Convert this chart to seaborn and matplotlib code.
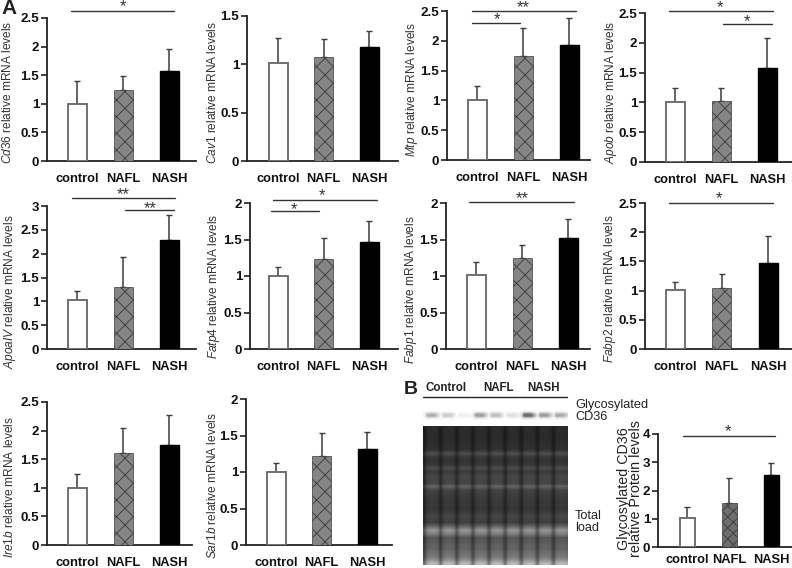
import numpy as np
import pandas as pd
import matplotlib
matplotlib.use('Agg')
import matplotlib.pyplot as plt
from matplotlib.lines import Line2D
import seaborn as sns

sns.set_style('white')
plt.rcParams['font.family'] = ['Liberation Sans', 'DejaVu Sans']
plt.rcParams['mathtext.fontset'] = 'custom'
plt.rcParams['mathtext.it'] = 'Liberation Sans:italic'
plt.rcParams['mathtext.rm'] = 'Liberation Sans'
plt.rcParams['hatch.linewidth'] = 0.6

# data
groups = ['control', 'NAFL', 'NASH']

cd36_mean = [1.00, 1.25, 1.57]
cd36_top = [1.40, 1.48, 1.96]
cav1_mean = [1.01, 1.08, 1.18]
cav1_top = [1.27, 1.26, 1.34]
mtp_mean = [1.00, 1.75, 1.93]
mtp_top = [1.25, 2.21, 2.38]
apob_mean = [1.01, 1.03, 1.57]
apob_top = [1.24, 1.25, 2.08]
apoa4_mean = [1.02, 1.31, 2.29]
apoa4_top = [1.22, 1.93, 2.82]
fatp4_mean = [1.00, 1.23, 1.47]
fatp4_top = [1.13, 1.52, 1.76]
fabp1_mean = [1.01, 1.24, 1.52]
fabp1_top = [1.19, 1.43, 1.78]
fabp2_mean = [1.01, 1.05, 1.48]
fabp2_top = [1.14, 1.28, 1.94]
ire1b_mean = [1.00, 1.61, 1.74]
ire1b_top = [1.25, 2.05, 2.27]
sar1b_mean = [1.00, 1.22, 1.32]
sar1b_top = [1.13, 1.53, 1.55]
protein_mean = [1.02, 1.57, 2.55]
protein_top = [1.43, 2.44, 2.97]

ticks_25 = [0, 0.5, 1, 1.5, 2, 2.5]
ticks_15 = [0, 0.5, 1, 1.5]
ticks_3 = [0, 0.5, 1, 1.5, 2, 2.5, 3]
ticks_2 = [0, 0.5, 1, 1.5, 2]
ticks_4 = [0, 1, 2, 3, 4]

# gel brightness, top to bottom, and per lane band strength on the blot
gel_profile = [45, 45, 44, 44, 46, 48, 50, 80, 56, 52, 56, 78, 60, 70, 72, 68, 100, 70, 64, 60,
               58, 58, 56, 60, 72, 66, 66, 105, 150, 128, 88, 90, 98, 100, 112, 118, 140, 185]
blot_lanes = [0.50, 0.32, 0.10, 0.60, 0.40, 0.20, 0.92, 0.62, 0.52]
blot_profile = [0, 0, 0, 0, 0.2, 0.9, 1, 0.3, 0, 0]

W, H = 792, 568
fig = plt.figure(figsize=(W / 100, H / 100), dpi=100, facecolor='white')


def fx(x):
    return x / W


def fy(y):
    return 1 - y / H


def bar_panel(means, tops, ticks, left, right, top, bottom, c0, c2, bar_px=19, diamond='xx', fill='#858585', xpad=8.5):
    ax = fig.add_axes([fx(left), fy(bottom), fx(right - left), (bottom - top) / H])
    step = (c2 - c0) / 2
    df = pd.DataFrame({'group': groups, 'value': means})
    sns.barplot(data=df, x='group', y='value', hue='group', palette=['white', fill, 'black'],
                saturation=1, width=bar_px / step, errorbar=None, legend=False, ax=ax, zorder=3)
    up = [t - m for t, m in zip(tops, means)]
    ax.errorbar(range(3), means, yerr=[[0, 0, 0], up], fmt='none', ecolor='#3c3c3c', elinewidth=1.1,
                capsize=2, capthick=1.0, zorder=2)
    white_bar, hatch_bar, black_bar = ax.patches[:3]
    white_bar.set_edgecolor('#707070')
    white_bar.set_linewidth(1.4)
    hatch_bar.set_edgecolor('#3a3a3a')
    hatch_bar.set_hatch(diamond)
    hatch_bar.set_linewidth(0.5)
    black_bar.set_edgecolor('black')
    ax.set_xlim(-(c0 - left) / step, (right - c0) / step)
    ax.set_ylim(0, ticks[-1])
    ax.set_yticks(ticks)
    ax.set_yticklabels([f'{t:g}' for t in ticks], fontsize=9.6, fontweight='bold', color='#111111')
    ax.set_xlabel('')
    ax.set_ylabel('')
    ax.tick_params(axis='x', length=0, pad=xpad)
    ax.tick_params(axis='y', length=4, width=1.2, color='#222222', left=True, pad=1.5)
    for lab in ax.get_xticklabels():
        lab.set_fontsize(9.3)
        lab.set_fontweight('bold')
        lab.set_color('#111111')
    sns.despine(ax=ax)
    ax.patch.set_alpha(0)
    for side in ['left', 'bottom']:
        ax.spines[side].set_color('#222222')
        ax.spines[side].set_linewidth(1.3)
    return ax


def ylab(gene, x, y):
    fig.text(fx(x), fy(y), rf'$\mathit{{{gene}}}$ relative mRNA levels', rotation=90, ha='center', va='center',
             fontsize=8.6, color='#333333')


def bracket(x0, x1, y, stars, sx, sy):
    fig.add_artist(Line2D([fx(x0), fx(x1)], [fy(y), fy(y)], color='#333333', lw=1.0))
    fig.text(fx(sx), fy(sy + 2), stars, ha='center', va='center', fontsize=12, color='#333333')


# row 1
bar_panel(cd36_mean, cd36_top, ticks_25, 47, 196, 18, 161, 77, 169)
ylab('Cd36', 8, 92)
bracket(71, 174, 11, '*', 123, 5)
bar_panel(cav1_mean, cav1_top, ticks_15, 247, 398, 16, 161, 278, 369)
ylab('Cav1', 213, 93)
bar_panel(mtp_mean, mtp_top, ticks_25, 447, 590, 11, 160, 477, 569)
ylab('Mtp', 412, 90)
bracket(472, 576, 11, '**', 523, 6)
bracket(472, 520, 23, '*', 497, 18)
bar_panel(apob_mean, apob_top, ticks_25, 645, 792, 13, 162, 675, 767)
ylab('Apob', 611, 92)
bracket(669, 773, 11, '*', 720, 6)
bracket(723, 772, 24, '*', 747, 20)

# row 2
bar_panel(apoa4_mean, apoa4_top, ticks_3, 47, 196, 206, 349, 77, 169)
ylab('ApoaIV', 10, 292)
bracket(72, 175, 198, '**', 123, 193)
bracket(125, 174, 210, '**', 150, 207)
bar_panel(fatp4_mean, fatp4_top, ticks_2, 250, 398, 203, 349, 278, 369)
ylab('Fatp4', 214, 286)
bracket(273, 377, 200, '*', 322, 194)
bracket(271, 319, 211, '*', 294, 208)
bar_panel(fabp1_mean, fabp1_top, ticks_2, 446, 590, 203, 349, 476, 568)
ylab('Fabp1', 411, 290)
bracket(469, 574, 202, '**', 522, 197)
bar_panel(fabp2_mean, fabp2_top, ticks_25, 645, 792, 203, 349, 675, 768)
ylab('Fabp2', 610, 289)
bracket(669, 773, 203, '*', 719, 197)

# row 3
bar_panel(ire1b_mean, ire1b_top, ticks_25, 47, 192, 402, 545, 77, 169)
ylab('Ire1b', 10, 487)
bar_panel(sar1b_mean, sar1b_top, ticks_2, 246, 392, 399, 545, 276, 367)
ylab('Sar1b', 212, 486)
bar_panel(protein_mean, protein_top, ticks_4, 658, 792, 434, 547, 687, 771, bar_px=15, diamond='xxx', fill='#6e6e6e', xpad=5)
fig.text(fx(630), fy(489), 'Glycosylated CD36\nrelative Protein levels', rotation=90, ha='center', va='center',
         fontsize=10.3, color='#222222', linespacing=0.88)
bracket(683, 775, 436, '*', 728, 430)

# blot strip and gel
blot = np.outer(blot_profile, np.kron(blot_lanes, [0.2, 1, 1, 1, 0.6]))
ax_blot = fig.add_axes([fx(423), fy(423), fx(145), 20 / H])
ax_blot.imshow(1 - 0.65 * blot, cmap='gray', vmin=0, vmax=1, aspect='auto', interpolation='bilinear')
ax_blot.axis('off')

gel = np.outer(gel_profile, np.kron(np.ones(9), [0.6, 0.95, 1, 1, 0.95]))
ax_gel = fig.add_axes([fx(423), fy(565), fx(145), 139 / H])
ax_gel.imshow(gel, cmap='gray', vmin=0, vmax=255, aspect='auto', interpolation='bilinear')
ax_gel.axis('off')

# lane headers
for x0, x1, name, cx in [(423, 470, 'Control', 446), (471, 519, 'NAFL', 498), (520, 567, 'NASH', 543)]:
    fig.add_artist(Line2D([fx(x0), fx(x1)], [fy(397), fy(397)], color='#222222', lw=1.0))
    fig.text(fx(cx), fy(388), name, ha='center', va='center', fontsize=8.3, fontweight='bold', color='#222222')

fig.text(fx(575), fy(411), 'Glycosylated\nCD36', ha='left', va='center', fontsize=9.2, color='#222222', linespacing=1.1)
fig.text(fx(575), fy(522), 'Total\nload', ha='left', va='center', fontsize=9.2, color='#222222', linespacing=1.1)

fig.text(fx(9), fy(9), 'A', ha='center', va='center', fontsize=15, fontweight='bold', color='#222222')
fig.text(fx(411), fy(390), 'B', ha='center', va='center', fontsize=14, fontweight='bold', color='#222222')

fig.savefig('out.png', dpi=100)
